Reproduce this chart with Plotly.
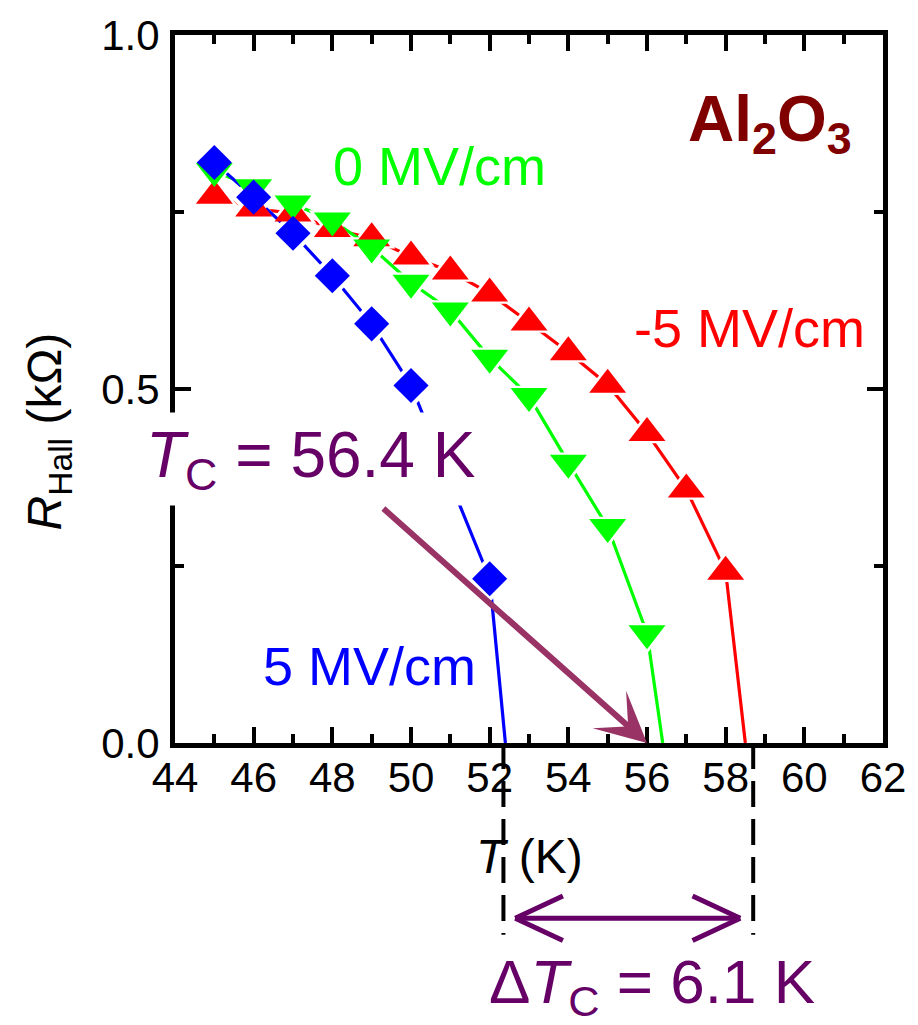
import plotly.graph_objects as go

# ---------------- data ----------------
T_blue = [45, 46, 47, 48, 49, 50, 52]
R_blue = [0.820, 0.771, 0.720, 0.660, 0.592, 0.505, 0.232]
Tc_blue = 52.4

T_green = [45, 46, 47, 48, 49, 50, 51, 52, 53, 54, 55, 56]
R_green = [0.808, 0.785, 0.762, 0.738, 0.700, 0.650, 0.611, 0.544, 0.490, 0.396, 0.305, 0.155]
Tc_green = 56.4

T_red = [45, 46, 47, 48, 49, 50, 51, 52, 53, 54, 55, 56, 57, 58]
R_red = [0.773, 0.755, 0.748, 0.726, 0.713, 0.687, 0.666, 0.635, 0.594, 0.552, 0.506, 0.438, 0.358, 0.242]
Tc_red = 58.5

# guide lines marking Tc of the +5 and -5 MV/cm curves
Tc_guides = [52.35, 58.7]
dTc_arrow = [52.65, 58.37]

x_ticks = [44, 46, 48, 50, 52, 54, 56, 58, 60, 62]
y_ticks = [0.0, 0.5, 1.0]

series = [
    dict(name="-5 MV/cm", T=T_red, R=R_red, Tc=Tc_red, color="#ff0000", symbol="triangle-up", size=32),
    dict(name="0 MV/cm", T=T_green, R=R_green, Tc=Tc_green, color="#00ff00", symbol="triangle-down", size=32),
    dict(name="5 MV/cm", T=T_blue, R=R_blue, Tc=Tc_blue, color="#0000ff", symbol="diamond", size=27),
]

FONT = "Arial, Liberation Sans, sans-serif"
PURPLE = "#660066"

fig = go.Figure()

# lines + white gap halos (gap-to-symbol look)
for s in series:
    fig.add_trace(go.Scatter(x=s["T"], y=s["R"], mode="lines",
                             line=dict(color=s["color"], width=3.2), showlegend=False))
    fig.add_trace(go.Scatter(x=[s["T"][-1], s["Tc"]], y=[s["R"][-1], 0.0], mode="lines",
                             line=dict(color=s["color"], width=3.2), showlegend=False))
    fig.add_trace(go.Scatter(x=s["T"], y=s["R"], mode="markers",
                             marker=dict(symbol=s["symbol"], size=s["size"] + 9, color="white",
                                         line=dict(width=0)), showlegend=False))
# markers
for s in series:
    fig.add_trace(go.Scatter(x=s["T"], y=s["R"], mode="markers",
                             marker=dict(symbol=s["symbol"], size=s["size"], color=s["color"],
                                         line=dict(width=0)), showlegend=False))

axis_common = dict(showline=True, linewidth=5, linecolor="black", mirror="allticks",
                   ticks="inside", ticklen=16, tickwidth=4, tickcolor="black",
                   showgrid=False, zeroline=False,
                   tickfont=dict(family=FONT, size=42, color="black"))

fig.update_xaxes(range=[44, 62], tickvals=x_ticks, ticktext=[str(v) for v in x_ticks],
                 minor=dict(dtick=1, ticks="inside", ticklen=9, tickwidth=4, tickcolor="black"),
                 ticklabelstandoff=-6, **axis_common)
fig.update_yaxes(range=[0, 1], tickvals=y_ticks, ticktext=[f"{v:.1f}" for v in y_ticks],
                 minor=dict(dtick=0.25, ticks="inside", ticklen=9, tickwidth=4, tickcolor="black"),
                 ticklabelstandoff=2, **axis_common)

ARROW_Y = -0.2476
annotations = [
    # arrow to Tc (drawn first so label box covers tail)
    dict(x=56.0, y=0.0, xref="x", yref="y", ax=49.26, ay=0.333, axref="x", ayref="y",
         text="", showarrow=True, arrowhead=3, arrowsize=1.4, arrowwidth=6,
         arrowcolor="#993366", standoff=0),
    dict(x=47.45, y=0.401, xref="x", yref="y", showarrow=False,
         text="<i>T</i><sub>C</sub> = 56.4 K", bgcolor="white", borderpad=6,
         xanchor="center", yanchor="middle",
         font=dict(family=FONT, size=64, color=PURPLE)),
    dict(x=61.25, y=0.876, xref="x", yref="y", showarrow=False, xanchor="right", yanchor="middle",
         text="<b>Al<sub>2</sub>O<sub>3</sub></b>",
         font=dict(family=FONT, size=64, color="#800000")),
    dict(x=50.72, y=0.815, xref="x", yref="y", showarrow=False, text="0 MV/cm",
         xanchor="center", yanchor="middle",
         font=dict(family=FONT, size=54, color="#00ff00")),
    dict(x=58.6, y=0.586, xref="x", yref="y", showarrow=False, text="-5 MV/cm",
         xanchor="center", yanchor="middle",
         font=dict(family=FONT, size=54, color="#ff0000")),
    dict(x=48.94, y=0.109, xref="x", yref="y", showarrow=False, text="5 MV/cm",
         xanchor="center", yanchor="middle",
         font=dict(family=FONT, size=54, color="#0000ff")),
    # axis titles
    dict(x=53.02, y=-0.161, xref="x", yref="paper", showarrow=False, text="<i>T</i> (K)",
         xanchor="center", yanchor="middle",
         font=dict(family=FONT, size=48, color="black")),
    dict(x=-0.178, y=0.44, xref="paper", yref="paper", showarrow=False, textangle=-90,
         xanchor="center", yanchor="middle",
         text="<i>R</i><sub>Hall</sub> (kΩ)",
         font=dict(family=FONT, size=48, color="black")),
    # delta Tc double arrow: shaft
    dict(x=dTc_arrow[1], y=ARROW_Y, xref="x", yref="paper", ax=dTc_arrow[0], ay=0,
         axref="x", ayref="pixel", text="", showarrow=True, arrowhead=0,
         arrowwidth=5, arrowcolor=PURPLE, standoff=0),
    dict(x=56.13, y=-0.343, xref="x", yref="paper", showarrow=False,
         xanchor="center", yanchor="middle",
         text="Δ<i>T</i><sub>C</sub> = 6.1 K",
         font=dict(family=FONT, size=62, color=PURPLE)),
]
# open chevron heads of the double arrow
for tip, direction in [(dTc_arrow[0], 1), (dTc_arrow[1], -1)]:
    for dy in (-23, 23):
        annotations.append(dict(x=tip, y=ARROW_Y, xref="x", yref="paper",
                                ax=tip + direction * 1.25, ay=dy, axref="x", ayref="pixel",
                                text="", showarrow=True, arrowhead=0, arrowwidth=5,
                                arrowcolor=PURPLE, standoff=0))

shapes = []
for tc in Tc_guides:
    shapes.append(dict(type="line", xref="x", yref="paper", x0=tc, x1=tc, y0=0, y1=-0.271,
                       line=dict(color="black", width=4, dash="26px,12px")))

fig.update_layout(width=918, height=1025, margin=dict(l=175, r=25, t=28, b=282),
                  paper_bgcolor="white", plot_bgcolor="white",
                  annotations=annotations, shapes=shapes, showlegend=False)

fig.write_html("out.html")
